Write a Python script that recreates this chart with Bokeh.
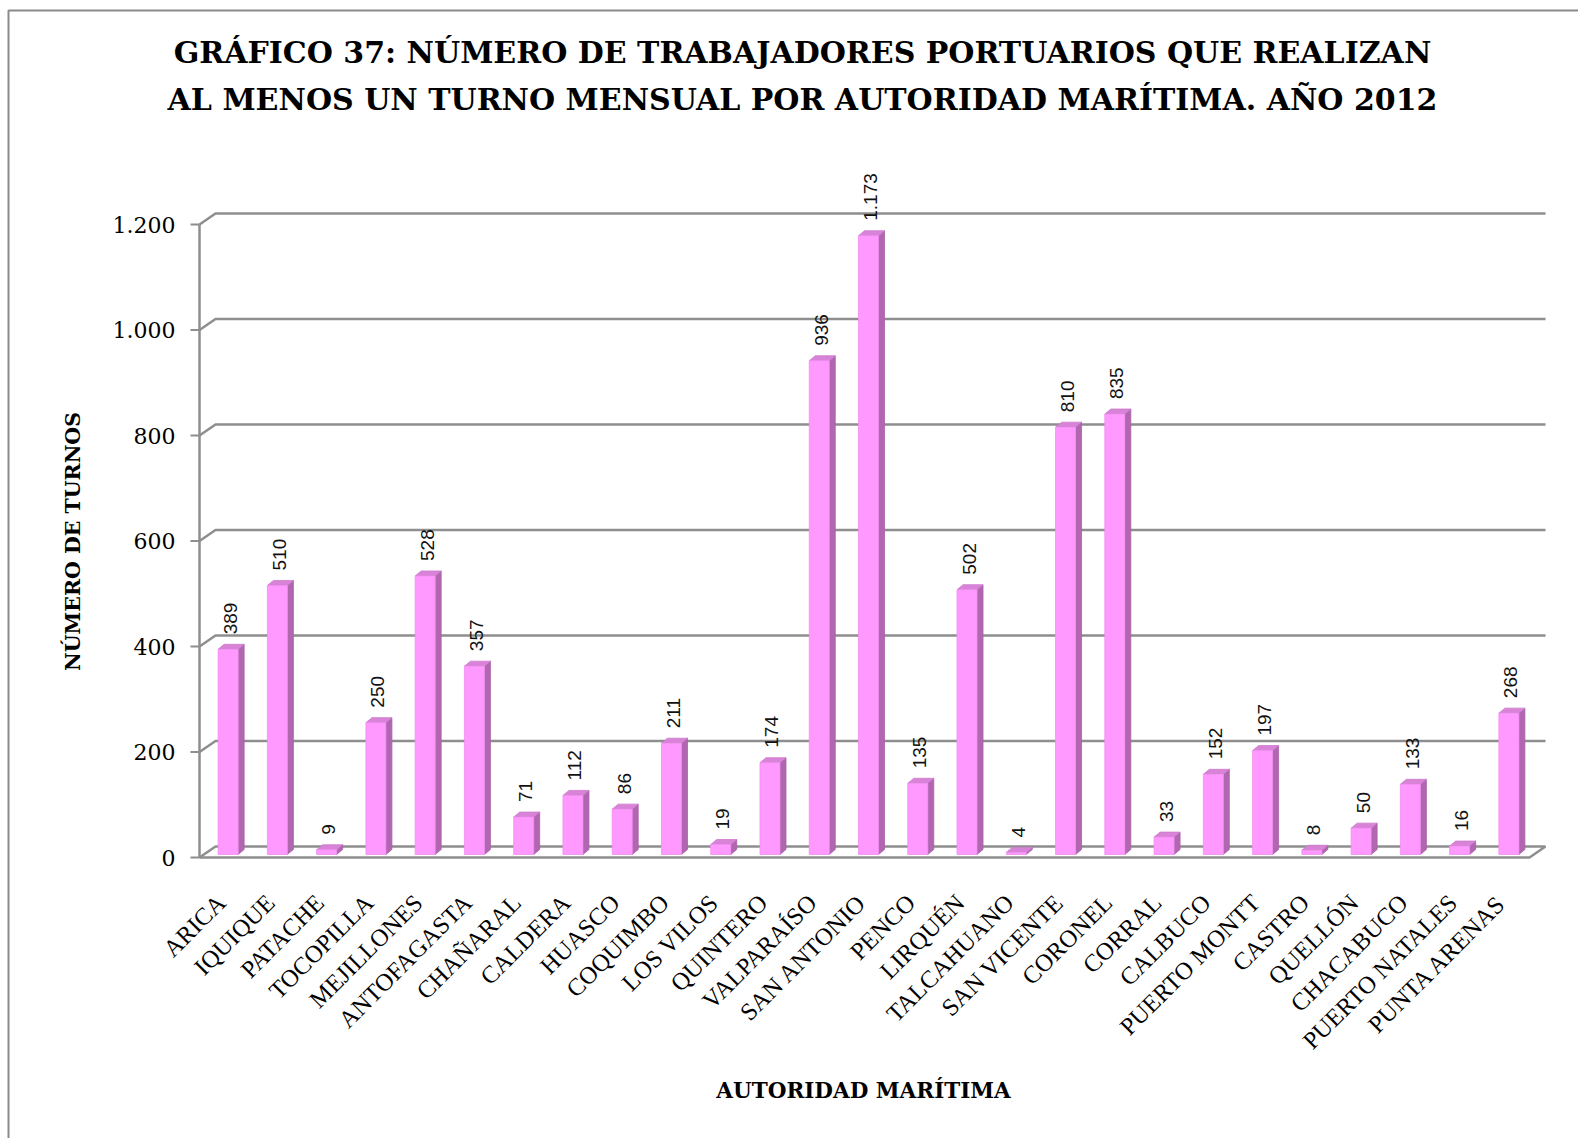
import math
from bokeh.plotting import figure
from bokeh.models import Range1d, ColumnDataSource
from bokeh.embed import file_html
from bokeh.resources import INLINE
from bokeh.core.properties import value

# ---- data ---------------------------------------------------------------
categories = [
    "ARICA", "IQUIQUE", "PATACHE", "TOCOPILLA", "MEJILLONES", "ANTOFAGASTA",
    "CHAÑARAL", "CALDERA", "HUASCO", "COQUIMBO", "LOS VILOS", "QUINTERO",
    "VALPARAÍSO", "SAN ANTONIO", "PENCO", "LIRQUÉN", "TALCAHUANO",
    "SAN VICENTE", "CORONEL", "CORRAL", "CALBUCO", "PUERTO MONTT", "CASTRO",
    "QUELLÓN", "CHACABUCO", "PUERTO NATALES", "PUNTA ARENAS",
]
turnos = [
    389, 510, 9, 250, 528, 357,
    71, 112, 86, 211, 19, 174,
    936, 1173, 135, 502, 4,
    810, 835, 33, 152, 197, 8,
    50, 133, 16, 268,
]
y_ticks = [0, 200, 400, 600, 800, 1000, 1200]
y_tick_labels = ["0", "200", "400", "600", "800", "1.000", "1.200"]

title_lines = [
    "GRÁFICO 37: NÚMERO DE TRABAJADORES PORTUARIOS QUE REALIZAN",
    "AL MENOS UN TURNO MENSUAL POR AUTORIDAD MARÍTIMA. AÑO 2012",
]
y_title = "NÚMERO DE TURNOS"
x_title = "AUTORIDAD MARÍTIMA"

# ---- geometry -----------------------------------------------------------
W, H = 1578, 1138
X0, Y0 = 199, 857          # canvas position of the floor's front-left corner
CAT_PX = 49.26             # pixels per category slot
VAL_PX = 0.5275            # pixels per unit of value
n = len(categories)


def dx(px):
    return px / CAT_PX


def dv(px):
    return px / VAL_PX


def u(xpx):
    return (xpx - X0) / CAT_PX


def v(ypx):
    return (Y0 - ypx) / VAL_PX


p = figure(
    width=W, height=H,
    x_range=Range1d(u(0), u(W)), y_range=Range1d(v(H), v(0)),
    x_axis_type=None, y_axis_type=None,
    toolbar_location=None, output_backend="svg",
    min_border=0, outline_line_color=None,
    background_fill_color="white", border_fill_color="white",
)

GRID = "#8e8e8e"
WALL_DX, WALL_DY = dx(16), dv(11)   # depth of the 3-D back wall

# outer frame (top and left edges)
p.line([u(8), u(8), u(W + 5)], [v(H + 5), v(10), v(10)], line_color="#8a8a8a", line_width=2)

# back-wall gridlines and the slanted connectors of the left wall
for t in y_ticks:
    p.line([0, WALL_DX, n + WALL_DX], [t, t + WALL_DY, t + WALL_DY],
           line_color=GRID, line_width=2.5)
    p.line([u(190), 0], [t, t], line_color=GRID, line_width=2)

# left wall front edge
p.line([0, 0], [0, max(y_ticks)], line_color=GRID, line_width=2.5)
# floor: front edge and right side
p.line([0, n, n + WALL_DX], [0, 0, WALL_DY], line_color=GRID, line_width=2.5)

# ---- 3-D bars ------------------------------------------------------------
BAR_W = dx(20)
BAR_DX, BAR_DY = dx(6), dv(5)
OFF_X, OFF_Y = dx(4), dv(3)

centers = [i + 0.5 + OFF_X for i in range(n)]
lefts = [c - BAR_W / 2 for c in centers]
rights = [c + BAR_W / 2 for c in centers]
bottoms = [OFF_Y] * n
tops = [t + OFF_Y for t in turnos]

side_xs = [[r, r + BAR_DX, r + BAR_DX, r] for r in rights]
side_ys = [[b, b + BAR_DY, t + BAR_DY, t] for b, t in zip(bottoms, tops)]
top_xs = [[l, r, r + BAR_DX, l + BAR_DX] for l, r in zip(lefts, rights)]
top_ys = [[t, t, t + BAR_DY, t + BAR_DY] for t in tops]

p.patches(side_xs, side_ys, fill_color="#b067b0", line_color="#a95fa9", line_width=0.8)
p.patches(top_xs, top_ys, fill_color="#d883d8", line_color="#cc7acc", line_width=0.8)
p.quad(left=lefts, right=rights, bottom=bottoms, top=tops,
       fill_color="#ff99ff", line_color="#f08ef0", line_width=0.8)

# value labels above the bars
labels = ColumnDataSource(dict(
    x=[c + dx(2) for c in centers],
    y=[t + dv(15) for t in tops],
    text=[f"{t:,}".replace(",", ".") for t in turnos],
))
p.text(x="x", y="y", text="text", source=labels, angle=math.pi / 2,
       text_align="left", text_baseline="middle",
       text_font=value("Liberation Sans"), text_font_size="19px", text_color="#111111")

# ---- axis texts ----------------------------------------------------------
p.text(x=[u(175)] * len(y_ticks), y=y_ticks, text=y_tick_labels,
       text_align="right", text_baseline="middle",
       text_font=value("DejaVu Serif"), text_font_size="22px", text_color="#000000")

p.text(x=[c - dx(7) for c in centers], y=[v(898)] * n, text=categories,
       angle=math.pi / 4, text_align="right", text_baseline="middle",
       text_font=value("Liberation Serif"), text_font_size="24.5px", text_color="#000000")

p.text(x=[u(802)] * 2, y=[v(52), v(99)], text=title_lines,
       text_align="center", text_baseline="middle",
       text_font=value("DejaVu Serif"), text_font_style="bold",
       text_font_size="30px", text_color="#000000")

p.text(x=[u(72)], y=[v(541)], text=[y_title], angle=math.pi / 2,
       text_align="center", text_baseline="middle",
       text_font=value("DejaVu Serif"), text_font_style="bold",
       text_font_size="20.5px", text_color="#000000")

p.text(x=[u(863)], y=[v(1090)], text=[x_title],
       text_align="center", text_baseline="middle",
       text_font=value("DejaVu Serif"), text_font_style="bold",
       text_font_size="21.5px", text_color="#000000")

open("out.html", "w").write(file_html(p, INLINE))
